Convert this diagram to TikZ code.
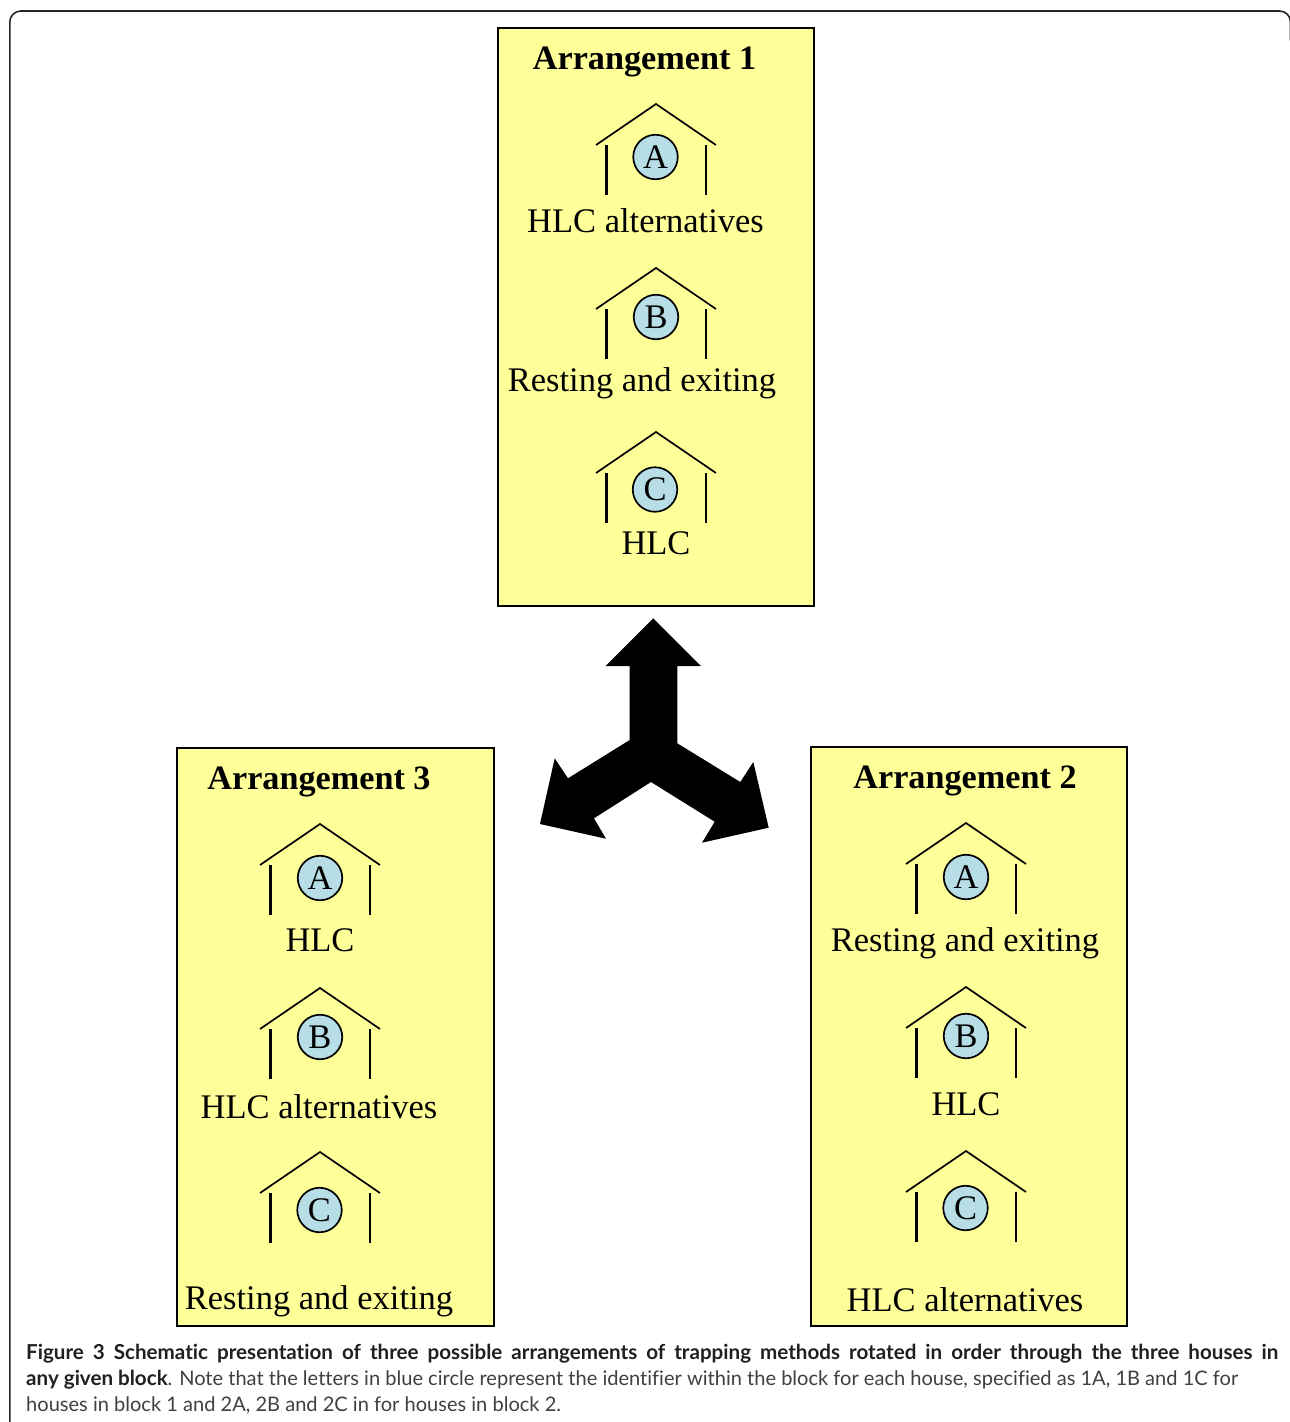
\documentclass[tikz,border=0pt]{standalone}
\usepackage{fontspec}
\setmainfont{Liberation Serif}
\newfontfamily\capfont[Ligatures=CommonOff]{Lato}
\definecolor{boxyellow}{HTML}{FFFF99}
\definecolor{dotblue}{HTML}{B7DEE6}
\definecolor{captext}{HTML}{231F20}
\definecolor{capgrey}{HTML}{404040}
\tikzset{
  panel/.style={draw=black,line width=2pt,fill=boxyellow},
  roofline/.style={draw=black,line width=1.7pt,line join=miter},
  wallleft/.style={draw=black,line width=3pt},
  wallright/.style={draw=black,line width=2.3pt},
  dot/.style={circle,draw=black,line width=1.7pt,fill=dotblue,minimum size=44.5pt,inner sep=0pt,font=\fontsize{34.5}{34.5}\selectfont},
  title/.style={anchor=base,inner sep=0pt,font=\fontsize{34.2}{34.2}\selectfont\bfseries},
  label/.style={anchor=base,inner sep=0pt,font=\fontsize{34.5}{34.5}\selectfont},
  caption/.style={anchor=base west,inner sep=0pt,text=capgrey,font=\capfont\fontsize{20.05}{26}\selectfont},
}
% #1 name, #2 x of roof apex, #3 y of roof apex, #4 letter, #5 y of circle, #6 x of circle
\newcommand{\house}[6]{
  \draw[roofline] (#2-60,#3+41) -- (#2,#3) -- (#2+60,#3+41);
  \draw[wallleft] (#2-50,#3+41) -- (#2-50,#3+91);
  \draw[wallright] (#2+50,#3+41) -- (#2+50,#3+91);
  \node[dot] (#1) at (#6,#5) {#4};
}
\begin{document}
\begin{tikzpicture}[x=1pt,y=-1pt]
\useasboundingbox (0,0) rectangle (1290,1422);
\fill[white] (0,0) rectangle (1290,1422);
\draw[line width=1.6pt,color=black!85,rounded corners=11pt] (9.8,1440) -- (9.8,11) -- (1290.5,11) -- (1290.5,40);

% arrow
\fill[black] (653.3,618.3) -- (701,666) -- (677.3,666) -- (677.3,743.3) -- (740.3,782) -- (753.3,762) -- (768.7,827.7) -- (702,842.7) -- (714.7,821.7) -- (651,782) -- (594,818.3) -- (606,838.7) -- (540,824) -- (554.7,758.3) -- (568,778.3) -- (629.7,740) -- (629.7,666) -- (605.7,666) -- cycle;

% Arrangement 1
\draw[panel] (497.5,27.5) rectangle (814,606);
\node[title] (t1) at (644.5,69) {Arrangement 1};
\house{a1}{656}{104}{A}{157}{655.5}
\node[label] (l1a) at (645.5,232) {HLC alternatives};
\house{b1}{656}{268}{B}{317}{656}
\node[label] (l1b) at (642,391) {Resting and exiting};
\house{c1}{656}{432}{C}{489.5}{655}
\node[label] (l1c) at (656,554) {HLC};

% Arrangement 3
\draw[panel] (177,748) rectangle (494,1326);
\node[title] (t3) at (319,789.5) {Arrangement 3};
\house{a3}{320}{824}{A}{878}{320}
\node[label] (l3a) at (320,951) {HLC};
\house{b3}{320}{988}{B}{1037}{320}
\node[label] (l3b) at (319,1118) {HLC alternatives};
\house{c3}{320}{1152}{C}{1210}{319.5}
\node[label] (l3c) at (319,1309) {Resting and exiting};

% Arrangement 2
\draw[panel] (810.5,747) rectangle (1127,1326);
\node[title] (t2) at (965,788.5) {Arrangement 2};
\house{a2}{966}{823}{A}{877}{966}
\node[label] (l2a) at (965,951) {Resting and exiting};
\house{b2}{966}{987}{B}{1036}{966}
\node[label] (l2b) at (966,1115) {HLC};
\house{c2}{966}{1151}{C}{1208}{965.5}
\node[label] (l2c) at (965,1311) {HLC alternatives};

% caption
\node[caption,text=captext] (cap1) at (26,1359) {\hbox to 1252pt{\fontsize{20.6}{26}\selectfont\bfseries Figure~3 Schematic presentation of three possible arrangements of trapping methods rotated in order through the three houses in}};
\node[caption] (cap2) at (26,1385) {\textcolor{captext}{\fontsize{20.6}{26}\selectfont\textbf{any given block}}. Note that the letters in blue circle represent the identifier within the block for each house, specified as 1A, 1B and 1C for};
\node[caption] (cap3) at (26,1411) {houses in block 1 and 2A, 2B and 2C in for houses in block 2.};
\end{tikzpicture}
\end{document}
